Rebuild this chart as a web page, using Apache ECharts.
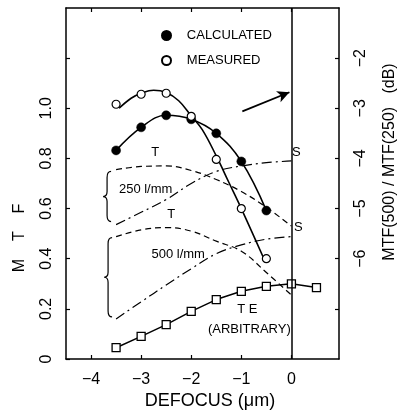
<!DOCTYPE html>
<html><head><meta charset="utf-8">
<script src="https://cdn.jsdelivr.net/npm/echarts@6/dist/echarts.min.js"></script>
<style>html,body{margin:0;padding:0;background:#fff}#c{width:401px;height:411px}</style>
</head><body><div id="c"></div>
<script>
// ---- data ----
const defocus = [-3.5, -3, -2.5, -2, -1.5, -1, -0.5];
const calculated = [0.832, 0.924, 0.972, 0.956, 0.9, 0.788, 0.592];
const measured = [1.016, 1.056, 1.06, 0.968, 0.796, 0.6, 0.4];
const measuredFitX = [-3.44, -3.2, -3.0, -2.75, -2.5, -2.25, -2.0, -1.78, -1.5, -1.25, -1.0, -0.56];
const measuredFitY = [1.0, 1.04, 1.06, 1.072, 1.063, 1.03, 0.97, 0.915, 0.81, 0.705, 0.6, 0.405];
const curveX = [-3.5, -3, -2.5, -2, -1.5, -1, -0.5, 0];
const t250 = [0.755, 0.768, 0.77, 0.752, 0.716, 0.668, 0.605, 0.53];
const s250 = [0.536, 0.585, 0.636, 0.7, 0.748, 0.77, 0.783, 0.79];
const t500 = [0.488, 0.515, 0.524, 0.51, 0.47, 0.43, 0.345, 0.255];
const s500 = [0.16, 0.228, 0.295, 0.36, 0.42, 0.455, 0.478, 0.488];
const teX = [-3.5, -3, -2.5, -2, -1.5, -1, -0.5, 0, 0.5];
const teY = [0.045, 0.09, 0.137, 0.19, 0.237, 0.27, 0.29, 0.3, 0.285];
const xTicks = [-4, -3, -2, -1, 0];
const mtfTicks = [0, 0.2, 0.4, 0.6, 0.8, 1.0, 1.2];
const mtfLabels = [0, 0.2, 0.4, 0.6, 0.8, 1.0];
const dbTicks = [-7, -6, -5, -4, -3, -2];
const dbLabels = [-6, -5, -4, -3, -2];
const seriesNames = ['CALCULATED', 'MEASURED'];
// annotations (data coordinates)
const notes = [
  [-2.72, 0.824, 'T'], [-2.91, 0.676, '250 l/mm'], [-2.4, 0.576, 'T'], [-2.26, 0.416, '500 l/mm'],
  [0.1, 0.824, 'S'], [0.14, 0.524, 'S'], [-0.88, 0.196, 'T E'], [-0.84, 0.116, '(ARBITRARY)']
];
const braces = [[-3.68, 0.748, 0.548], [-3.66, 0.484, 0.168]];
const arrow = [[-0.98, 0.988], [-0.04, 1.064]];

const F = 'Liberation Sans, Arial, sans-serif';
const pair = (xs, ys) => xs.map((x, i) => [x, ys[i]]);
const minus = v => String(v).replace('-', '\u2212');
const black = '#000';

const chart = echarts.init(document.getElementById('c'), null, {renderer: 'canvas'});
const axisLine = {show: true, onZero: false, lineStyle: {color: black, width: 1.5}};
const tick = (vals) => ({show: true, inside: true, length: 4, lineStyle: {color: black, width: 1.2}, customValues: vals});

chart.setOption({
  animation: false,
  backgroundColor: '#fff',
  grid: {left: 66, right: 62, top: 8, bottom: 52},
  legend: {
    data: seriesNames.map(n => ({name: n, icon: 'circle'})),
    orient: 'vertical', left: 156, top: 24, itemWidth: 9, itemHeight: 9, itemGap: 12,
    formatter: n => '   ' + n,
    textStyle: {fontFamily: F, fontSize: 13, color: black}
  },
  xAxis: [
    {type: 'value', min: -4.5, max: 0.95, position: 'bottom', axisLine, splitLine: {show: false},
     axisTick: tick(xTicks),
     axisLabel: {customValues: xTicks, formatter: minus, fontFamily: F, fontSize: 16, color: black, margin: 13}},
    {type: 'value', min: -4.5, max: 0.95, position: 'top', axisLine, splitLine: {show: false},
     axisTick: tick(xTicks), axisLabel: {show: false}}
  ],
  yAxis: [
    {type: 'value', min: 0, max: 1.4, position: 'left', axisLine, splitLine: {show: false},
     axisTick: tick(mtfTicks),
     axisLabel: {customValues: mtfLabels, rotate: 90, margin: 11, fontFamily: F, fontSize: 16, color: black,
       formatter: v => v === 0 ? '0' : v.toFixed(1)}},
    {type: 'value', min: -8, max: -1, position: 'right', axisLine, splitLine: {show: false},
     axisTick: tick(dbTicks),
     axisLabel: {customValues: dbLabels, rotate: 90, margin: 14, fontFamily: F, fontSize: 16, color: black,
       formatter: minus}}
  ],
  graphic: [
    {type: 'text', x: 20, y: 238, rotation: Math.PI / 2,
     style: {text: 'M    T    F', fontFamily: F, fontSize: 16, fill: black, textAlign: 'center', textVerticalAlign: 'middle'}},
    {type: 'text', x: 390, y: 162, rotation: Math.PI / 2,
     style: {text: 'MTF(500) / MTF(250)   (dB)', fontFamily: F, fontSize: 16, fill: black, textAlign: 'center', textVerticalAlign: 'middle'}},
    {type: 'text', x: 210, y: 401,
     style: {text: 'DEFOCUS (\u03bcm)', fontFamily: F, fontSize: 18, fill: black, textAlign: 'center', textVerticalAlign: 'middle'}}
  ],
  series: [
    {type: 'line', data: pair(curveX, t250), showSymbol: false, smooth: 0.4, lineStyle: {color: black, width: 1.2, type: [6, 4]}, silent: true},
    {type: 'line', data: pair(curveX, s250), showSymbol: false, smooth: 0.4, lineStyle: {color: black, width: 1.2, type: [10, 4, 2, 4]}, silent: true},
    {type: 'line', data: pair(curveX, t500), showSymbol: false, smooth: 0.4, lineStyle: {color: black, width: 1.2, type: [6, 4]}, silent: true},
    {type: 'line', data: pair(curveX, s500), showSymbol: false, smooth: 0.4, lineStyle: {color: black, width: 1.2, type: [10, 4, 2, 4]}, silent: true},
    {type: 'line', data: pair(defocus, calculated), showSymbol: false, smooth: 0.4, lineStyle: {color: black, width: 1.6}, silent: true,
     markLine: {silent: true, symbol: ['none', 'none'], label: {show: false}, lineStyle: {color: black, width: 1.5, type: 'solid'},
       data: [{xAxis: 0}]}},
    {type: 'line', data: pair(measuredFitX, measuredFitY), showSymbol: false, smooth: 0.4, lineStyle: {color: black, width: 1.6}, silent: true,
     markLine: {silent: true, symbol: ['none', 'arrow'], symbolSize: [9, 12], label: {show: false},
       lineStyle: {color: black, width: 1.8, type: 'solid'},
       data: [[{coord: arrow[0]}, {coord: arrow[1]}]]}},
    {type: 'line', data: pair(teX, teY), symbol: 'rect', symbolSize: 8, showSymbol: true, lineStyle: {color: black, width: 1.5},
     itemStyle: {color: '#fff', borderColor: black, borderWidth: 1.3}, silent: true},
    {name: 'CALCULATED', type: 'scatter', data: pair(defocus, calculated), symbol: 'circle', symbolSize: 9,
     itemStyle: {color: black, borderColor: black, borderWidth: 0.5, opacity: 1}, z: 5},
    {name: 'MEASURED', type: 'scatter', data: pair(defocus, measured), symbol: 'circle', symbolSize: 8,
     itemStyle: {color: '#fff', borderColor: black, borderWidth: 1.2, opacity: 1}, z: 5},
    {type: 'scatter', data: notes.map(n => ({value: [n[0], n[1]], name: n[2]})), symbolSize: 1, silent: true,
     itemStyle: {opacity: 0},
     label: {show: true, position: 'inside', formatter: p => p.name, fontFamily: F, fontSize: 13, color: black, opacity: 1}},
    {type: 'custom', silent: true, data: braces,
     renderItem: (params, api) => {
       const t = api.coord([api.value(0), api.value(1)]);
       const b = api.coord([api.value(0), api.value(2)]);
       const x = t[0], y0 = t[1], y1 = b[1], ym = (y0 + y1) / 2, w = 4;
       const d = `M${x + w} ${y0} Q${x} ${y0} ${x} ${y0 + 6} L${x} ${ym - 5} Q${x} ${ym} ${x - w} ${ym} Q${x} ${ym} ${x} ${ym + 5} L${x} ${y1 - 6} Q${x} ${y1} ${x + w} ${y1}`;
       return {type: 'path', shape: {pathData: d}, style: {stroke: black, fill: null, lineWidth: 1.2}};
     }}
  ]
});
</script></body></html>
